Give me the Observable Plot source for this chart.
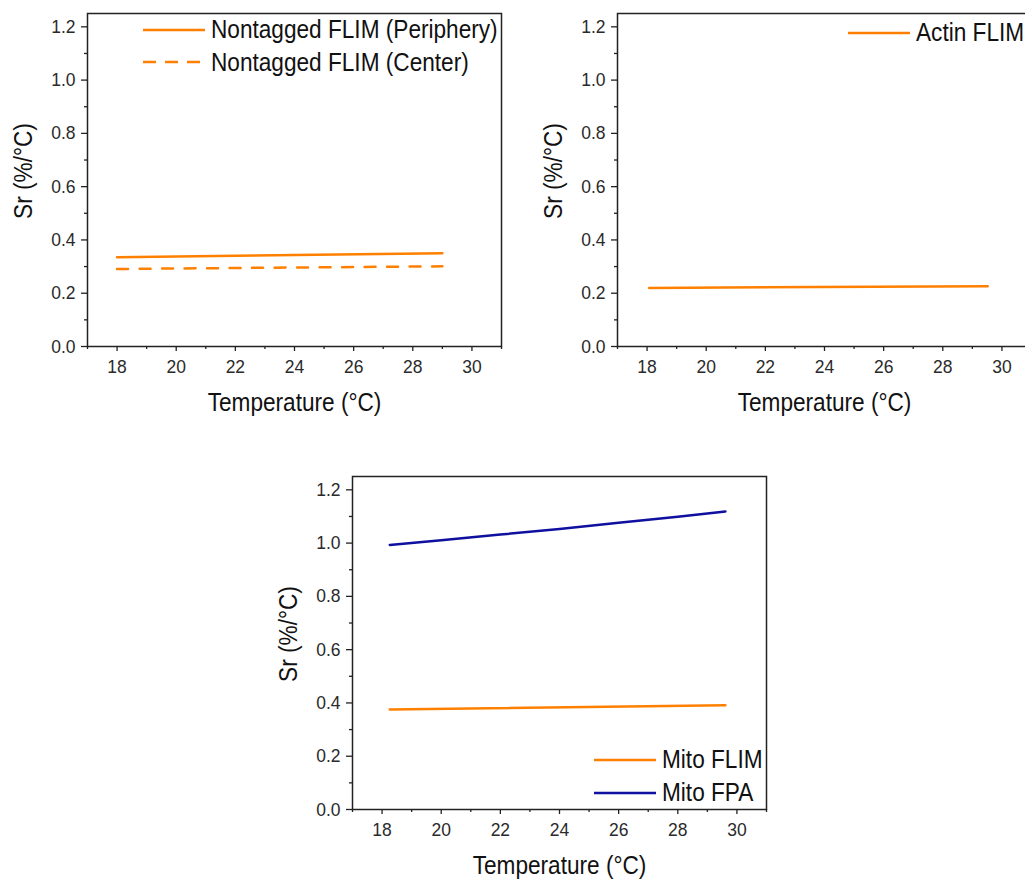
<!DOCTYPE html>
<html>
<head>
<meta charset="utf-8">
<script src="https://cdn.jsdelivr.net/npm/d3@7"></script>
<script src="https://cdn.jsdelivr.net/npm/@observablehq/plot@0.6"></script>
<style>
  html, body { margin:0; padding:0; background:#fff; overflow:hidden; width:1025px; height:879px; }
  .panel { position:absolute; width:510px; height:420px; }
  .panel svg { max-width:none !important; }
  .legend { position:absolute; font-family:'Liberation Sans',Arial,sans-serif; font-size:26px; color:#111; white-space:nowrap; }
  .legend .row { position:absolute; left:0; display:flex; align-items:center; }
  .legend svg { display:block; margin-right:6px; }
  .legend span { display:inline-block; transform:scaleX(0.87); transform-origin:left center; }
</style>
</head>
<body>
<div id="root"></div>
<script>
// ---- data ----
const nontaggedTemp = [18, 29];
const nontaggedPeriphery = [0.335, 0.350];
const nontaggedCenter = [0.291, 0.301];

const actinTemp = [18.07, 29.52];
const actinFLIM = [0.220, 0.226];

const mitoFLIMTemp = [18.26, 29.61];
const mitoFLIM = [0.375, 0.391];
const mitoFPATemp = [18.26, 20, 22, 24, 26, 28, 29.61];
const mitoFPA = [0.993, 1.011, 1.032, 1.053, 1.076, 1.099, 1.119];

const xMajor = [18, 20, 22, 24, 26, 28, 30];
const xMinor = [17, 19, 21, 23, 25, 27, 29, 31];
const yMajor = [0.0, 0.2, 0.4, 0.6, 0.8, 1.0, 1.2];
const yMinor = [0.1, 0.3, 0.5, 0.7, 0.9, 1.1];

const xLabel = "Temperature (°C)";
const yLabel = "Sr (%/°C)";

const ORANGE = "#ff8000";
const NAVY = "#0f0fa0";
const FONT = "'Liberation Sans',Arial,sans-serif";
const LABEL_SQUEEZE = 0.87;
const TICK_SQUEEZE = 0.92;

function toRows(xs, ys) { return xs.map((x, i) => ({x, y: ys[i]})); }

function panel(lines) {
  return Plot.plot({
    width: 510, height: 420,
    marginLeft: 87, marginRight: 9, marginTop: 13, marginBottom: 74,
    x: {domain: [17, 31]},
    y: {domain: [0, 1.25]},
    style: {fontFamily: FONT, fontSize: "19px", background: "transparent", color: "#222"},
    marks: [
      Plot.axisY(yMajor, {tickSize: 6, tickPadding: 6, tickFormat: d3.format(".1f"), fontSize: 19, label: null, strokeWidth: 1.3, fill: "#2a2a2a"}),
      Plot.axisY(yMinor, {tickSize: 3, tickFormat: () => "", label: null, strokeWidth: 1.3}),
      Plot.axisX(xMajor, {tickSize: 5, tickPadding: 8, fontSize: 19, label: null, strokeWidth: 1.3, fill: "#2a2a2a"}),
      Plot.axisX(xMinor, {tickSize: 3, tickFormat: () => "", label: null, strokeWidth: 1.3}),
      Plot.frame({stroke: "#222", strokeWidth: 1.5}),
      ...lines.map(l => Plot.line(toRows(l.xs, l.ys), {x: "x", y: "y", stroke: l.color, strokeWidth: 2.5, strokeDasharray: l.dash || null})),
      Plot.text([xLabel], {frameAnchor: "bottom", dy: 56, text: d => d, fontSize: 26, fill: "#111", lineAnchor: "middle", textAnchor: "middle"}),
      Plot.text([yLabel], {frameAnchor: "left", dx: -64, dy: -9, rotate: -90, text: d => d, fontSize: 26, fill: "#111", lineAnchor: "middle", textAnchor: "middle"})
    ]
  });
}

function place(el, left, top) {
  const d = document.createElement("div");
  d.className = "panel";
  d.style.left = left + "px";
  d.style.top = top + "px";
  d.appendChild(el);
  document.getElementById("root").appendChild(d);
  // narrow the Arial-like glyphs to match the condensed face of the original
  el.querySelectorAll("text").forEach(t => {
    const len = t.getComputedTextLength();
    if (len > 0) {
      const isTick = !!t.closest('g[aria-label$="tick label"]');
      t.setAttribute("textLength", (len * (isTick ? TICK_SQUEEZE : LABEL_SQUEEZE)).toFixed(2));
      t.setAttribute("lengthAdjust", "spacingAndGlyphs");
    }
  });
}

function legend(left, top, items, rowGap) {
  const d = document.createElement("div");
  d.className = "legend";
  d.style.left = left + "px";
  d.style.top = top + "px";
  items.forEach((it, i) => {
    const r = document.createElement("div");
    r.className = "row";
    r.style.top = (i * rowGap) + "px";
    r.innerHTML = `<svg width="62" height="10"><line x1="0" x2="62" y1="5" y2="5" stroke="${it.color}" stroke-width="2.5" ${it.dash ? `stroke-dasharray="${it.dash}"` : ""}/></svg><span>${it.label}</span>`;
    d.appendChild(r);
  });
  document.getElementById("root").appendChild(d);
}

place(panel([
  {xs: nontaggedTemp, ys: nontaggedPeriphery, color: ORANGE},
  {xs: nontaggedTemp, ys: nontaggedCenter, color: ORANGE, dash: "11,11.5"}
]), 0, 0);

place(panel([
  {xs: actinTemp, ys: actinFLIM, color: ORANGE}
]), 529.7, 0);

place(panel([
  {xs: mitoFLIMTemp, ys: mitoFLIM, color: ORANGE},
  {xs: mitoFPATemp, ys: mitoFPA, color: NAVY}
]), 265.3, 462.7);

legend(143, 14, [
  {label: "Nontagged FLIM (Periphery)", color: ORANGE},
  {label: "Nontagged FLIM (Center)", color: ORANGE, dash: "13,9"}
], 32.7);

legend(848, 17, [
  {label: "Actin FLIM", color: ORANGE}
], 33);

legend(594, 744, [
  {label: "Mito FLIM", color: ORANGE},
  {label: "Mito FPA", color: NAVY}
], 33);
</script>
</body>
</html>
